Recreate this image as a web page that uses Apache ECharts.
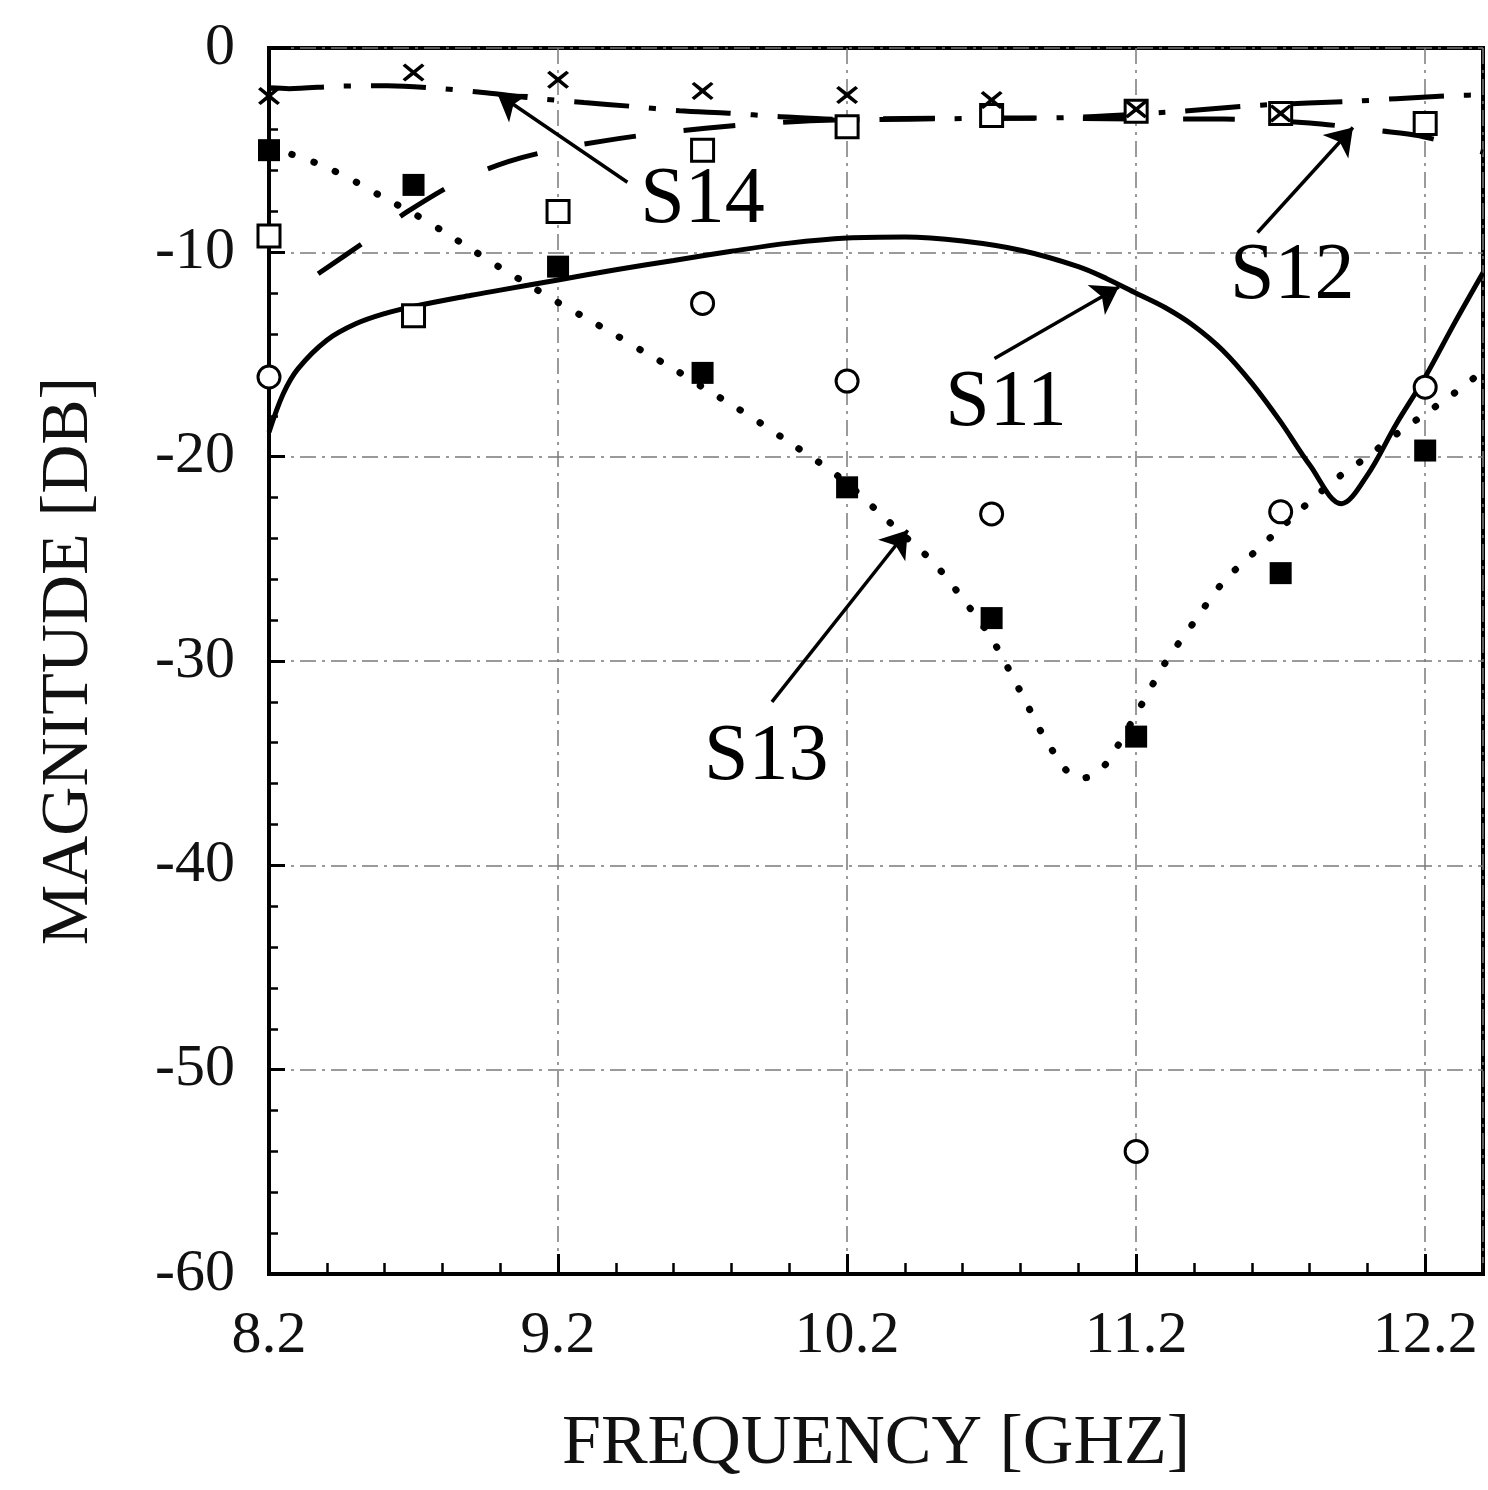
<!DOCTYPE html>
<html>
<head>
<meta charset="utf-8">
<script src="https://cdn.jsdelivr.net/npm/echarts@6/dist/echarts.min.js"></script>
<style>
html,body{margin:0;padding:0;background:#fff;}
#chart{width:1488px;height:1490px;}
</style>
</head>
<body>
<div id="chart"></div>
<script>
// ---- data ----
const xTickLabels = ['8.2', '9.2', '10.2', '11.2', '12.2'];
const yTickLabels = ['0', '-10', '-20', '-30', '-40', '-50', '-60'];

// S11 simulated (solid)
const s11Freq = [8.2, 8.25, 8.3, 8.4, 8.5, 8.6, 8.7, 8.9, 9.0, 9.2, 9.4, 9.6, 9.8, 10.0, 10.2, 10.4, 10.6, 10.8, 11.0, 11.1, 11.2, 11.3, 11.4, 11.5, 11.6, 11.7, 11.8, 11.91, 12.0, 12.1, 12.2, 12.3, 12.4];
const s11Sim  = [-18.8, -16.9, -15.7, -14.3, -13.5, -13.0, -12.65, -12.1, -11.85, -11.35, -10.85, -10.4, -9.95, -9.55, -9.3, -9.25, -9.45, -9.9, -10.7, -11.3, -12.0, -12.7, -13.6, -14.8, -16.4, -18.3, -20.4, -22.3, -20.9, -18.4, -16.1, -13.5, -11.0];

// S12 simulated (long dashes)
const s12Freq = [8.37, 8.53, 8.68, 8.86, 9.03, 9.2, 9.37, 9.53, 9.71, 9.9, 10.1, 10.4, 10.7, 11.0, 11.2, 11.5, 11.8, 12.05, 12.18, 12.4];
const s12Sim  = [-11.05, -9.5, -8.0, -6.5, -5.55, -4.94, -4.52, -4.2, -3.93, -3.7, -3.55, -3.45, -3.43, -3.45, -3.47, -3.48, -3.67, -4.06, -4.3, -5.1];

// S13 simulated (dotted)
const s13Freq = [8.2, 8.3, 8.4, 8.5, 8.6, 8.7, 8.8, 8.9, 9.0, 9.1, 9.2, 9.3, 9.4, 9.5, 9.6, 9.7, 9.8, 9.9, 10.0, 10.1, 10.2, 10.3, 10.4, 10.5, 10.6, 10.7, 10.8, 10.9, 11.0, 11.05, 11.1, 11.2, 11.3, 11.4, 11.5, 11.6, 11.7, 11.8, 11.9, 12.0, 12.1, 12.2, 12.3, 12.4];
const s13Sim  = [-4.9, -5.3, -5.85, -6.55, -7.35, -8.1, -8.95, -9.85, -10.75, -11.6, -12.45, -13.25, -14.05, -14.9, -15.7, -16.6, -17.45, -18.35, -19.3, -20.25, -21.3, -22.6, -23.9, -25.2, -26.95, -28.9, -31.5, -34.15, -35.75, -35.6, -34.95, -32.6, -30.1, -28.1, -26.15, -24.8, -23.5, -22.2, -21.0, -20.0, -18.9, -17.9, -16.9, -15.8];

// S14 simulated (dash-dot)
const s14Freq = [8.2, 8.27, 8.44, 8.61, 8.78, 8.95, 9.12, 9.29, 9.45, 9.62, 9.79, 9.96, 10.2, 10.63, 10.97, 11.3, 11.63, 11.96, 12.1, 12.31, 12.4];
const s14Sim  = [-1.95, -1.99, -1.87, -1.85, -1.97, -2.19, -2.46, -2.67, -2.85, -3.07, -3.19, -3.35, -3.5, -3.45, -3.4, -3.15, -2.8, -2.6, -2.48, -2.32, -2.3];

// measured points
const measFreq = [8.2, 8.7, 9.2, 9.7, 10.2, 10.7, 11.2, 11.7, 12.2];
const s11Meas = [-16.1, null, null, -12.5, -16.3, -22.8, -54.0, -22.7, -16.6];
const s12Meas = [-9.2, -13.1, -8.0, -5.0, -3.85, -3.3, -3.1, -3.2, -3.7];
const s13Meas = [-5.0, -6.7, -10.7, -15.9, -21.5, -27.9, -33.7, -25.7, -19.7];
const s14Meas = [-2.35, -1.2, -1.55, -2.1, -2.3, -2.55, -3.0, -3.2, null];

// annotations
const annoLabels = ['S14', 'S12', 'S11', 'S13'];
const annoTextPos = [[9.7, -7.5], [11.74, -11.2], [10.75, -17.4], [9.92, -34.75]];
const arrowFrom = [[9.44, -6.57], [11.62, -9.03], [10.71, -15.2], [9.94, -32.0]];
const arrowTo = [[8.99, -2.23], [11.95, -3.89], [11.14, -11.7], [10.41, -23.6]];

// ---- chart ----
const FONT = '"Liberation Serif", "DejaVu Serif", serif';
const GRID_TOP = 48, GRID_BOTTOM = 216, H = 1490;
const zip = (xs, ys) => xs.map((x, i) => [x, ys[i]]);
const zipMeas = ys => measFreq.map((x, i) => ys[i] == null ? null : [x, ys[i]]).filter(p => p);
const xMarker = 'path://M0,1.2L1.2,0L5,3.6L8.8,0L10,1.2L6.3,4.9L10,8.6L8.8,9.8L5,6.2L1.2,9.8L0,8.6L3.7,4.9Z';

const chart = echarts.init(document.getElementById('chart'), null, {renderer: 'canvas'});
const gridLine = {show: true, lineStyle: {color: '#7a7a7a', width: 1.5, type: [16, 6, 3, 6]}};

chart.setOption({
  backgroundColor: '#ffffff',
  animation: false,
  grid: {left: 269, right: 5, top: GRID_TOP, bottom: GRID_BOTTOM, show: true, borderColor: '#000', borderWidth: 4, backgroundColor: 'transparent'},
  xAxis: [{
    type: 'value', min: 8.2, max: 12.4, interval: 1, position: 'bottom',
    name: 'FREQUENCY [GHZ]', nameLocation: 'middle', nameGap: 136,
    nameTextStyle: {fontFamily: FONT, fontSize: 70, color: '#111'},
    axisLine: {show: true, onZero: false, lineStyle: {color: '#000', width: 4}},
    axisTick: {show: true, inside: true, length: 20, lineStyle: {color: '#000', width: 3}},
    axisLabel: {
      fontFamily: FONT, fontSize: 60, color: '#111', margin: 32, showMaxLabel: false,
      formatter: v => { const i = Math.round(v - 8.2); return (Math.abs(v - 8.2 - i) < 1e-6 && xTickLabels[i]) ? xTickLabels[i] : ''; }
    },
    splitLine: gridLine
  }, {
    // minor ticks only: placed on the bottom edge via offset
    type: 'value', min: 8.2, max: 12.4, interval: 0.2, position: 'top', gridIndex: 0,
    offset: -(H - GRID_TOP - GRID_BOTTOM),
    axisLine: {show: false}, axisLabel: {show: false}, splitLine: {show: false},
    axisTick: {show: true, inside: false, length: 11, lineStyle: {color: '#000', width: 2.5}}
  }],
  yAxis: {
    type: 'value', min: -60, max: 0, interval: 10,
    name: 'MAGNITUDE [DB]', nameLocation: 'middle', nameGap: 166,
    nameTextStyle: {fontFamily: FONT, fontSize: 68, color: '#111'},
    axisLine: {show: true, onZero: false, lineStyle: {color: '#000', width: 4}},
    axisTick: {show: true, inside: true, length: 16, lineStyle: {color: '#000', width: 3}},
    minorTick: {show: true, splitNumber: 5, length: 9, lineStyle: {color: '#000', width: 2.5}},
    axisLabel: {
      fontFamily: FONT, fontSize: 60, color: '#111', margin: 34,
      formatter: v => yTickLabels[Math.round(-v / 10)] || ''
    },
    splitLine: gridLine
  },
  series: [
    {name: 'S11', type: 'line', data: zip(s11Freq, s11Sim), smooth: 0.35, showSymbol: false,
     lineStyle: {color: '#000', width: 5}, z: 3},
    {name: 'S12', type: 'line', data: zip(s12Freq, s12Sim), smooth: 0.3, showSymbol: false,
     lineStyle: {color: '#000', width: 5, type: [52, 48]}, z: 3},
    {name: 'S13', type: 'line', data: zip(s13Freq, s13Sim), smooth: 0.3, showSymbol: false,
     lineStyle: {color: '#000', width: 7, type: [0.5, 23], cap: 'round'}, z: 3},
    {name: 'S14', type: 'line', data: zip(s14Freq, s14Sim), smooth: 0.3, showSymbol: false,
     lineStyle: {color: '#000', width: 5, type: [55, 20, 7, 20]}, z: 3},
    {name: 'S11 meas', type: 'scatter', data: zipMeas(s11Meas), symbol: 'circle', symbolSize: 22,
     itemStyle: {color: '#fff', borderColor: '#000', borderWidth: 3, opacity: 1}, z: 5},
    {name: 'S12 meas', type: 'scatter', data: zipMeas(s12Meas), symbol: 'rect', symbolSize: 22,
     itemStyle: {color: '#fff', borderColor: '#000', borderWidth: 3, opacity: 1}, z: 5},
    {name: 'S13 meas', type: 'scatter', data: zipMeas(s13Meas), symbol: 'rect', symbolSize: 22,
     itemStyle: {color: '#000', opacity: 1}, z: 6},
    {name: 'S14 meas', type: 'scatter', data: zipMeas(s14Meas), symbol: xMarker, symbolSize: [22, 18],
     itemStyle: {color: '#000', opacity: 1}, z: 6},
    {name: 'arrows', type: 'lines', coordinateSystem: 'cartesian2d', polyline: false,
     data: arrowFrom.map((f, i) => ({coords: [f, arrowTo[i]]})),
     symbol: ['none', 'arrow'], symbolSize: 26,
     lineStyle: {color: '#000', width: 3.5, opacity: 1, curveness: 0}, z: 7},
    {name: 'labels', type: 'scatter', data: annoTextPos.map((p, i) => [p[0], p[1], annoLabels[i]]),
     symbolSize: 1, itemStyle: {color: 'rgba(0,0,0,0)', opacity: 1},
     label: {show: true, position: 'inside', formatter: p => p.value[2], fontFamily: FONT, fontSize: 80, color: '#000'}, z: 8}
  ]
});
</script>
</body>
</html>
